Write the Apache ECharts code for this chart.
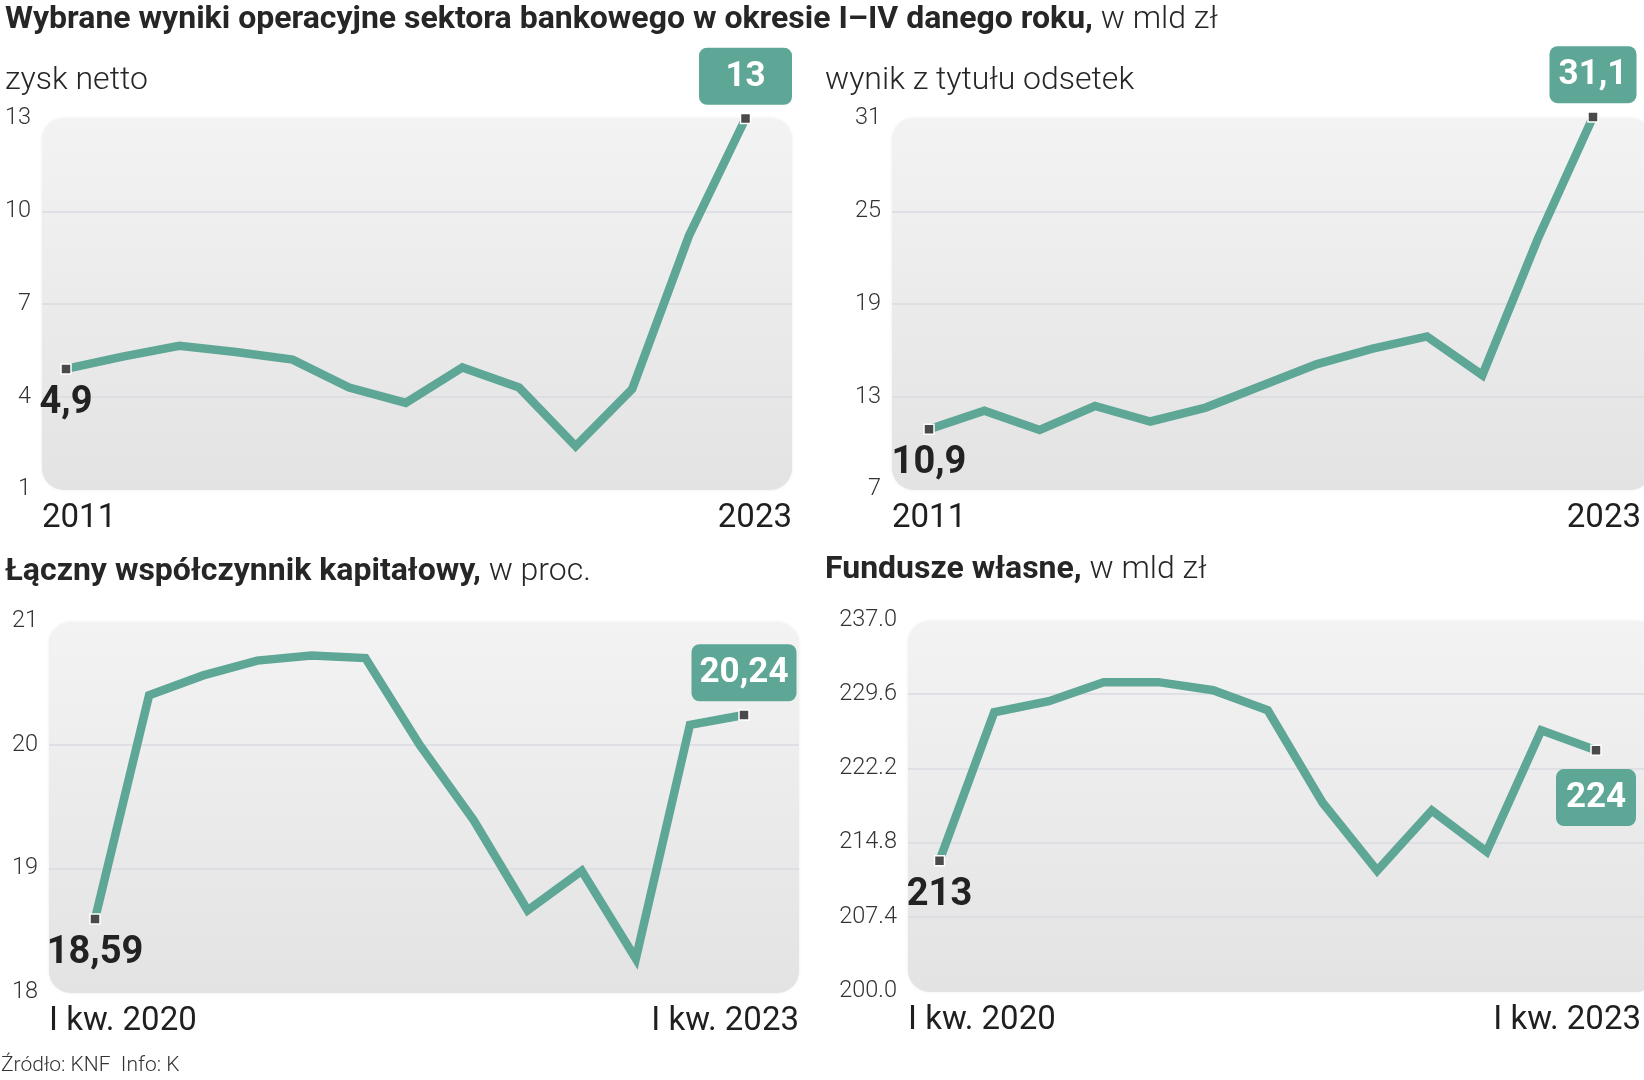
<!DOCTYPE html>
<html><head><meta charset="utf-8">
<script src="https://cdn.jsdelivr.net/npm/echarts@6/dist/echarts.min.js"></script>
<style>html,body{margin:0;padding:0;background:#fff}#c{width:1644px;height:1080px}</style>
</head><body><div id="c"></div>
<script>
// ---------- DATA ----------
const years = ['2011','2012','2013','2014','2015','2016','2017','2018','2019','2020','2021','2022','2023'];
const quarters = ['I kw. 2020','II kw. 2020','III kw. 2020','IV kw. 2020','I kw. 2021','II kw. 2021','III kw. 2021','IV kw. 2021','I kw. 2022','II kw. 2022','III kw. 2022','IV kw. 2022','I kw. 2023'];
const zyskNetto = [4.9, 5.3, 5.65, 5.45, 5.2, 4.3, 3.8, 4.95, 4.3, 2.4, 4.25, 9.2, 13];
const wynikOdsetek = [10.9, 12.1, 10.85, 12.4, 11.4, 12.3, 13.7, 15.1, 16.1, 16.9, 14.4, 23.2, 31.1];
const wspKapitalowy = [18.59, 20.40, 20.56, 20.68, 20.72, 20.70, 20.00, 19.39, 18.66, 18.98, 18.27, 20.16, 20.24];
const funduszeWlasne = [213, 227.8, 228.9, 230.8, 230.8, 230.0, 228.0, 218.8, 212.0, 218.0, 213.9, 226.0, 224];
const yTicksZysk = {min: 1, max: 13, interval: 3};
const yTicksOdsetki = {min: 7, max: 31, interval: 6};
const yTicksKapital = {min: 18, max: 21, interval: 1};
const yTicksFundusze = {min: 200, max: 237, interval: 7.4};

const mainTitleBold = 'Wybrane wyniki operacyjne sektora bankowego w okresie I\u2013IV danego roku,';
const mainTitleLight = ' w mld z\u0142';
const source = '\u0179r\u00f3d\u0142o: KNF  Info: K';

// ---------- STYLE / LAYOUT ----------
const TEAL = '#5ea696';
const FONT = 'Roboto, "Noto Sans", sans-serif';
const panels = [
  {cats: years, vals: zyskNetto, ticks: yTicksZysk, dec: null,
   bg: [42, 118, 750, 372], grid: {left: 66, top: 118.5, width: 679.5, height: 371}, yRight: 31,
   titleB: '', titleL: 'zysk netto', tx: 5, ty: 81,
   badgePos: 'top', badgeDist: 8, badgeW: 73},
  {cats: years, vals: wynikOdsetek, ticks: yTicksOdsetki, dec: null,
   bg: [892, 118, 760, 372], grid: {left: 929, top: 118.5, width: 667, height: 371}, yRight: 881,
   titleB: '', titleL: 'wynik z tytu\u0142u odsetek', tx: 825, ty: 81,
   badgePos: 'top', badgeDist: 8, badgeW: 67},
  {cats: quarters, vals: wspKapitalowy, ticks: yTicksKapital, dec: null,
   bg: [49, 622, 750, 371], grid: {left: 95, top: 621, width: 649, height: 371}, yRight: 38,
   titleB: '\u0141\u0105czny wsp\u00f3\u0142czynnik kapita\u0142owy,', titleL: ' w proc.', tx: 5, ty: 572,
   badgePos: 'top', badgeDist: 8, badgeW: 85},
  {cats: quarters, vals: funduszeWlasne, ticks: yTicksFundusze, dec: 1,
   bg: [908, 621, 750, 371], grid: {left: 939.5, top: 620, width: 659.5, height: 371}, yRight: 897,
   titleB: 'Fundusze w\u0142asne,', titleL: ' w mld z\u0142', tx: 825, ty: 570,
   badgePos: 'bottom', badgeDist: 13, badgeW: 60},
];

const XFS = 33, YFS = 23.5;
const cv = document.createElement('canvas').getContext('2d');
function textW(t, size, weight) { cv.font = (weight || 400) + ' ' + size + 'px Roboto'; return cv.measureText(t).width; }
const fmt = v => String(v).replace('.', ',');

const chart = echarts.init(document.getElementById('c'));
const grids = [], xAxes = [], yAxes = [], series = [], graphics = [];

panels.forEach((p, k) => {
  const n = p.cats.length;
  const bgL = p.bg[0], bgR = Math.min(p.bg[0] + p.bg[2], 1644);
  const tickL = p.grid.left, tickR = p.grid.left + p.grid.width;
  const w0 = textW(p.cats[0], XFS), w1 = textW(p.cats[n - 1], XFS);
  const s0 = bgL + w0 / 2 - tickL;       // shift of first label
  const s1 = bgR - w1 / 2 - tickR;       // shift of last label
  const pad = s => s >= 0 ? [0, 0, 0, 2 * s] : [0, -2 * s, 0, 0];

  graphics.push({type: 'rect', z: -10, shape: {x: p.bg[0], y: p.bg[1], width: p.bg[2], height: p.bg[3], r: 22},
    style: {fill: new echarts.graphic.LinearGradient(0, 0, 0, 1, [{offset: 0, color: '#f3f3f3'}, {offset: 1, color: '#e3e3e3'}]),
      shadowBlur: 3, shadowColor: 'rgba(0,0,0,0.08)'}});
  graphics.push({type: 'text', x: p.tx, y: p.ty, style: {
    text: (p.titleB ? '{b|' + p.titleB + '}' : '') + '{l|' + p.titleL + '}', verticalAlign: 'middle',
    rich: {b: {fontFamily: FONT, fontWeight: 'bold', fontSize: 32, fill: '#262626', verticalAlign: 'middle'},
           l: {fontFamily: FONT, fontWeight: 300, fontSize: 32, fill: '#262626', verticalAlign: 'middle'}}}});

  // wide grid: gridlines across the whole panel + y labels
  const gi = grids.length;
  grids.push({left: bgL, width: bgR - bgL, top: p.grid.top, height: p.grid.height});
  xAxes.push({type: 'value', gridIndex: gi, show: false, min: 0, max: 1});
  yAxes.push({type: 'value', gridIndex: gi, min: p.ticks.min, max: p.ticks.max, interval: p.ticks.interval,
    axisLine: {show: false}, axisTick: {show: false},
    splitLine: {show: true, showMinLine: false, showMaxLine: false, lineStyle: {color: '#d9dbe3', width: 1.5}},
    axisLabel: {margin: bgL - p.yRight, fontFamily: FONT, fontWeight: 300, fontSize: YFS, color: '#333',
      formatter: v => p.dec ? (Math.round(v * 10) / 10).toFixed(p.dec) : String(Math.round(v))}});

  // data grid
  const di = grids.length;
  grids.push(Object.assign({}, p.grid));
  xAxes.push({type: 'category', gridIndex: di, data: p.cats, boundaryGap: false,
    axisLine: {show: false}, axisTick: {show: false}, splitLine: {show: false},
    axisLabel: {interval: i => i === 0 || i === n - 1, margin: 13,
      formatter: (v, i) => (i === 0 ? '{a|' : '{b|') + v + '}',
      rich: {a: {fontFamily: FONT, fontSize: XFS, color: '#1f1f1f', padding: pad(s0)},
             b: {fontFamily: FONT, fontSize: XFS, color: '#1f1f1f', padding: pad(s1)}}}});
  yAxes.push({type: 'value', gridIndex: di, min: p.ticks.min, max: p.ticks.max, interval: p.ticks.interval,
    axisLine: {show: false}, axisTick: {show: false}, splitLine: {show: false}, axisLabel: {show: false}});

  const data = p.vals.map((v, i) => {
    if (i === 0) return {value: v, symbol: 'rect', symbolSize: 10,
      label: {show: true, position: 'bottom', distance: 10, formatter: fmt(v), fontFamily: FONT, fontWeight: 'bold', fontSize: 38, color: '#222'}};
    if (i === n - 1) return {value: v, symbol: 'rect', symbolSize: 10,
      label: {show: true, position: p.badgePos, distance: p.badgeDist, formatter: fmt(v), fontFamily: FONT, fontWeight: 'bold',
        fontSize: 35, lineHeight: 40, color: '#fff', backgroundColor: TEAL, borderRadius: 8, padding: [9, 10, 8, 10],
        width: p.badgeW, align: 'center'}};
    return {value: v, symbol: 'none'};
  });
  series.push({type: 'line', xAxisIndex: di, yAxisIndex: di, data: data, symbol: 'rect', symbolSize: 10, clip: false,
    lineStyle: {color: TEAL, width: 8.5, join: 'miter'}, itemStyle: {color: '#4a4a4a', borderColor: '#fff', borderWidth: 1.5},
    z: 3, animation: false, silent: true});
});

graphics.push({type: 'text', x: 5, y: 20, style: {
  text: '{b|' + mainTitleBold + '}{l|' + mainTitleLight + '}', verticalAlign: 'middle',
  rich: {b: {fontFamily: FONT, fontWeight: 'bold', fontSize: 32, fill: '#262626', verticalAlign: 'middle'},
         l: {fontFamily: FONT, fontWeight: 300, fontSize: 32, fill: '#262626', verticalAlign: 'middle'}}}});
graphics.push({type: 'text', x: 1, y: 1066, style: {text: source, verticalAlign: 'middle', fontFamily: FONT, fontWeight: 300, fontSize: 21, fill: '#333'}});

chart.setOption({animation: false, grid: grids, xAxis: xAxes, yAxis: yAxes, series: series, graphic: {elements: graphics}});
</script></body></html>
